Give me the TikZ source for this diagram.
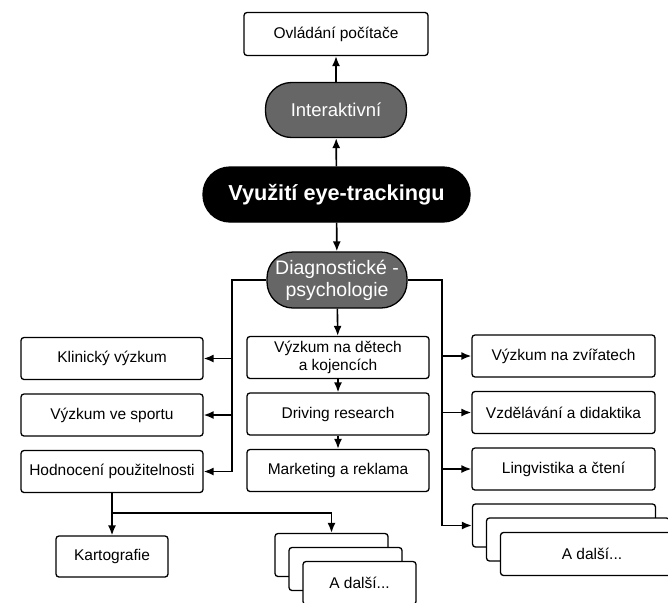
\documentclass[tikz,border=0pt]{standalone}
\usepackage{fontspec}
\setmainfont{Liberation Sans}
\usetikzlibrary{arrows.meta}

\begin{document}
\begin{tikzpicture}[x=1pt, y=-1pt,
  box/.style={draw, line width=1.3pt, rounded corners=3pt, fill=white, minimum width=182pt, minimum height=42pt, inner sep=0pt, align=center, font=\fontsize{15.5}{18.5}\selectfont},
  pill/.style={draw, line width=1.3pt, rounded corners=26pt, fill=black!60, text=white, minimum width=141pt, minimum height=55pt, inner sep=0pt, align=center, font=\fontsize{18.5}{22}\selectfont},
  hub/.style={draw, line width=1.3pt, rounded corners=27pt, fill=black, text=white, minimum width=267pt, minimum height=55pt, inner sep=0pt, font=\fontsize{21.7}{24}\selectfont\bfseries},
  arr/.style={-{Latex[length=10pt,width=8pt]}, line width=1.6pt}]
\useasboundingbox (0,0) rectangle (668,602);

\node [box, minimum width=184pt, minimum height=43pt] (ovl) at (336,34) {Ovládání počítače};
\node [pill] (inter) at (336,110) {Interaktivní};
\node [hub] (vyuz) at (336.5,194.5) {Využití eye-trackingu};
\node [pill, minimum width=140pt, minimum height=56pt, font=\fontsize{19.5}{22}\selectfont] (diag) at (337,280) {Diagnostické -\\psychologie};
\draw [arr] (vyuz) to (inter);
\draw [arr] (inter) to (ovl);
\draw [arr] (vyuz) to (diag);

\node [box] (klin)  at (112,358.5) {Klinický výzkum};
\node [box] (sport) at (112,415)   {Výzkum ve sportu};
\node [box] (hodn)  at (112,471.5) {Hodnocení použitelnosti};
\coordinate (lbus) at (232,280);
\draw [arr] (diag.west) -- (lbus) |- (klin.east);
\draw [arr] (lbus) |- (sport.east);
\draw [arr] (lbus) |- (hodn.east);

\node [box] (deti) at (338,357.5) {Výzkum na dětech\\a kojencích};
\node [box] (driv) at (338,414)   {Driving research};
\node [box] (mark) at (338,470.5) {Marketing a reklama};
\draw [arr] (diag) to (deti);
\draw [arr] (deti) to (driv);
\draw [arr] (driv) to (mark);

\node [box, minimum width=183pt] (zvir)  at (563.5,356)   {Výzkum na zvířatech};
\node [box, minimum width=183pt] (vzdel) at (563.5,412.5) {Vzdělávání a didaktika};
\node [box, minimum width=183pt] (ling)  at (563.5,469)   {Lingvistika a čtení};
\node [box, minimum width=183pt, minimum height=43pt] (r1) at (564,525.5) {};
\node [box, minimum width=183pt, minimum height=43pt] (r2) at (578,539.5) {};
\node [box, minimum width=183pt, minimum height=43pt] (r3) at (592,554)   {A další...};
\coordinate (rbus) at (442,280);
\draw [arr] (diag.east) -- (rbus) |- (zvir.west);
\draw [arr] (rbus) |- (vzdel.west);
\draw [arr] (rbus) |- (ling.west);
\draw [arr] (rbus) |- (r1.west);

\node [box, minimum width=112pt, minimum height=41pt] (karto) at (112,556.5) {Kartografie};
\node [box, minimum width=113pt, minimum height=43pt] (b1) at (331.5,555) {};
\node [box, minimum width=113pt, minimum height=43pt] (b2) at (345.5,569) {};
\node [box, minimum width=113pt, minimum height=43pt] (b3) at (359.5,583) {A další...};
\coordinate (bsplit) at (112,513);
\draw [arr] (hodn.south) -- (bsplit) -- (karto.north);
\draw [arr] (bsplit) -| (b1.north);
\end{tikzpicture}
\end{document}
